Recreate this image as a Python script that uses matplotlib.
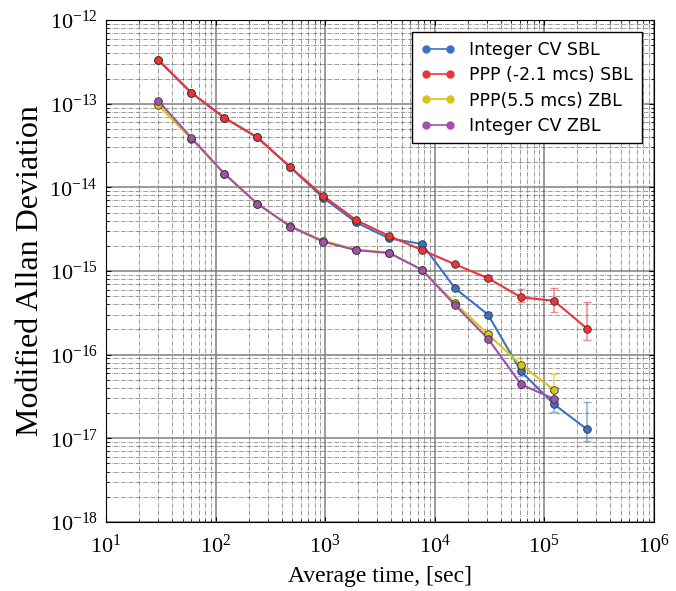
import numpy as np
import matplotlib
matplotlib.use("Agg")
import matplotlib.pyplot as plt

# averaging times [s]
tau = [30, 60, 120, 240, 480, 960, 1920, 3840, 7680, 15360, 30720, 61440, 122880, 245760]

# modified Allan deviation per solution
cv_sbl = [3.3e-13, 1.35e-13, 6.8e-14, 3.95e-14, 1.74e-14, 7.5e-15, 3.8e-15, 2.45e-15,
          2.1e-15, 6.2e-16, 3.0e-16, 6.3e-17, 2.55e-17, 1.28e-17]
cv_sbl_lo = [0, 0, 0, 0, 0, 0, 0, 0, 0, 0, 0.2e-16, 0.8e-17, 0.5e-17, 0.35e-17]
cv_sbl_hi = [0, 0, 0, 0, 0, 0, 0, 0, 0, 0, 0.2e-16, 0.8e-17, 0.4e-17, 1.4e-17]

ppp_sbl = [3.35e-13, 1.35e-13, 6.8e-14, 3.96e-14, 1.75e-14, 7.9e-15, 4.05e-15, 2.62e-15,
           1.78e-15, 1.2e-15, 8.2e-16, 4.85e-16, 4.4e-16, 2.05e-16]
ppp_sbl_lo = [0, 0, 0, 0, 0, 0, 0, 0, 0, 0, 0.5e-16, 0.6e-16, 1.2e-16, 0.55e-16]
ppp_sbl_hi = [0, 0, 0, 0, 0, 0, 0, 0, 0, 0, 0.5e-16, 1.2e-16, 1.9e-16, 2.15e-16]

tau_zbl = tau[:13]
ppp_zbl = [9.6e-14, 3.8e-14, 1.45e-14, 6.3e-15, 3.45e-15, 2.3e-15, 1.8e-15, 1.66e-15,
           1.03e-15, 4.1e-16, 1.75e-16, 7.5e-17, 3.8e-17]
ppp_zbl_lo = [0, 0, 0, 0, 0, 0, 0, 0, 0, 0, 0.1e-16, 1.2e-17, 1.0e-17]
ppp_zbl_hi = [0, 0, 0, 0, 0, 0, 0, 0, 0, 0, 0.1e-16, 1.7e-17, 2.1e-17]

cv_zbl = [1.08e-13, 3.92e-14, 1.46e-14, 6.4e-15, 3.4e-15, 2.24e-15, 1.77e-15, 1.64e-15,
          1.03e-15, 3.9e-16, 1.55e-16, 4.4e-17, 2.95e-17]
cv_zbl_lo = [0, 0, 0, 0, 0, 0, 0, 0, 0, 0, 0.1e-16, 0.4e-17, 0.3e-17]
cv_zbl_hi = [0, 0, 0, 0, 0, 0, 0, 0, 0, 0, 0.1e-16, 0.5e-17, 0.7e-17]

series = [
    ("Integer CV SBL", tau, cv_sbl, cv_sbl_lo, cv_sbl_hi, "#3a72c4"),
    ("PPP (-2.1 mcs) SBL", tau, ppp_sbl, ppp_sbl_lo, ppp_sbl_hi, "#ee3338"),
    ("PPP(5.5 mcs) ZBL", tau_zbl, ppp_zbl, ppp_zbl_lo, ppp_zbl_hi, "#d8c41c"),
    ("Integer CV ZBL", tau_zbl, cv_zbl, cv_zbl_lo, cv_zbl_hi, "#a052aa"),
]

plt.rcParams["mathtext.fontset"] = "stix"

fig = plt.figure(figsize=(6.76, 5.91), dpi=100)
ax = fig.add_axes([0.157, 0.117, 0.81, 0.849])

for label, x, y, lo, hi, col in series:
    ax.errorbar(x, y, yerr=[lo, hi], fmt="none", ecolor=col, alpha=0.55,
                elinewidth=1.2, capsize=3, zorder=2)
    ax.plot(x, y, "-", color=col, lw=1.5, zorder=3)
    ax.plot(x, y, "o", color=col, ms=5.5, mec="#333333", mew=0.6, zorder=4)
    # legend proxy
    ax.plot([], [], "-o", color=col, ms=5, lw=1.2, mec=col, label=label)

ax.set_xscale("log")
ax.set_yscale("log")
ax.set_xlim(1e1, 1e6)
ax.set_ylim(1e-18, 1e-12)

ax.grid(True, which="major", color="#808080", lw=1.1, ls="-")
ax.grid(True, which="minor", color="k", lw=0.5, ls="-.", alpha=0.55)
ax.tick_params(which="both", direction="in", top=True, right=True)
ax.tick_params(labelsize=16)
ax.tick_params(axis="x", pad=9)
ax.tick_params(axis="y", pad=6)
for t in ax.get_xticklabels() + ax.get_yticklabels():
    t.set_family("Liberation Serif")

ax.set_xlabel("Average time, [sec]", family="Liberation Serif", fontsize=17, labelpad=6)
ax.set_ylabel("Modified Allan Deviation", family="Liberation Serif", fontsize=23, labelpad=3)

leg = ax.legend(loc="upper right", numpoints=2, fancybox=False, framealpha=1,
                edgecolor="k", fontsize=12.5, borderpad=0.5, labelspacing=0.42,
                handlelength=2.0, borderaxespad=0.7)
leg.get_frame().set_linewidth(1.0)

fig.savefig("out.png", dpi=100)
